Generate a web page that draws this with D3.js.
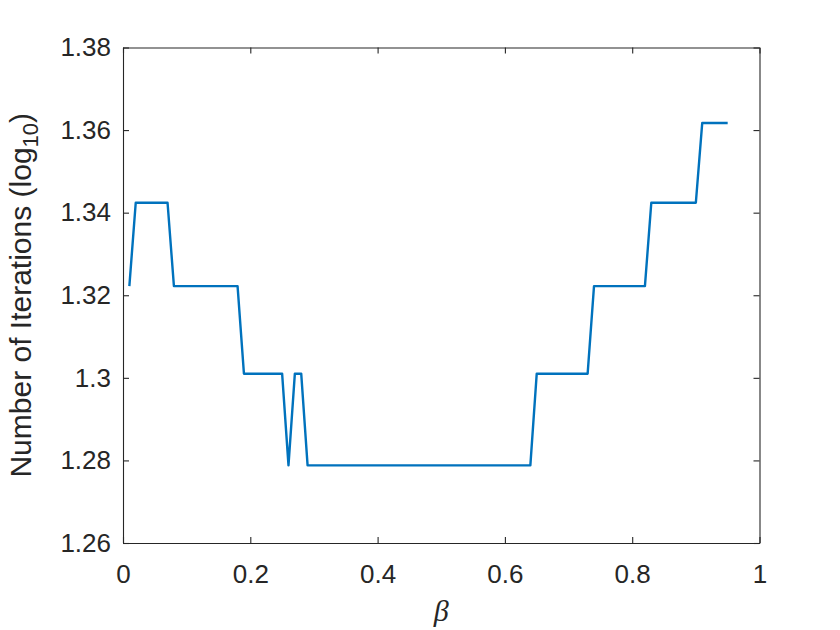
<!DOCTYPE html>
<html><head><meta charset="utf-8">
<script src="https://cdn.jsdelivr.net/npm/d3@7"></script>
<style>body{margin:0;background:#fff}svg{display:block}</style>
</head><body>
<script>
const beta = [0.01,0.02,0.03,0.04,0.05,0.06,0.07,0.08,0.09,0.10,0.11,0.12,0.13,0.14,0.15,0.16,0.17,0.18,0.19,0.20,
0.21,0.22,0.23,0.24,0.25,0.26,0.27,0.28,0.29,0.30,0.31,0.32,0.33,0.34,0.35,0.36,0.37,0.38,0.39,0.40,
0.41,0.42,0.43,0.44,0.45,0.46,0.47,0.48,0.49,0.50,0.51,0.52,0.53,0.54,0.55,0.56,0.57,0.58,0.59,0.60,
0.61,0.62,0.63,0.64,0.65,0.66,0.67,0.68,0.69,0.70,0.71,0.72,0.73,0.74,0.75,0.76,0.77,0.78,0.79,0.80,
0.81,0.82,0.83,0.84,0.85,0.86,0.87,0.88,0.89,0.90,0.91,0.92,0.93,0.94,0.95];
const logIter = [1.3222,1.3424,1.3424,1.3424,1.3424,1.3424,1.3424,1.3222,1.3222,1.3222,1.3222,1.3222,1.3222,1.3222,1.3222,1.3222,1.3222,1.3222,1.3010,1.3010,
1.3010,1.3010,1.3010,1.3010,1.3010,1.2788,1.3010,1.3010,1.2788,1.2788,1.2788,1.2788,1.2788,1.2788,1.2788,1.2788,1.2788,1.2788,1.2788,1.2788,
1.2788,1.2788,1.2788,1.2788,1.2788,1.2788,1.2788,1.2788,1.2788,1.2788,1.2788,1.2788,1.2788,1.2788,1.2788,1.2788,1.2788,1.2788,1.2788,1.2788,
1.2788,1.2788,1.2788,1.2788,1.3010,1.3010,1.3010,1.3010,1.3010,1.3010,1.3010,1.3010,1.3010,1.3222,1.3222,1.3222,1.3222,1.3222,1.3222,1.3222,
1.3222,1.3222,1.3424,1.3424,1.3424,1.3424,1.3424,1.3424,1.3424,1.3424,1.3617,1.3617,1.3617,1.3617,1.3617];
const xTicks = [0,0.2,0.4,0.6,0.8,1];
const xTickLabels = ["0","0.2","0.4","0.6","0.8","1"];
const yTicks = [1.26,1.28,1.30,1.32,1.34,1.36,1.38];
const yTickLabels = ["1.26","1.28","1.3","1.32","1.34","1.36","1.38"];

const W=840,H=630;
const L=123,R=759.5,T=47.5,B=543;
const font="'Liberation Sans', Arial, Helvetica, sans-serif";
const axisColor="#262626";
const svg=d3.select("body").append("svg").attr("width",W).attr("height",H);
const x=d3.scaleLinear().domain([0,1]).range([L,R]);
const y=d3.scaleLinear().domain([1.26,1.38]).range([B,T]);

// data line
svg.append("path").datum(beta.map((b,i)=>[b,logIter[i]]))
  .attr("fill","none").attr("stroke","#0072BD").attr("stroke-width",2.4)
  .attr("stroke-linejoin","round")
  .attr("d",d3.line().x(d=>x(d[0])).y(d=>y(d[1])));

const fmtX=(d,i)=>xTickLabels[i];
const fmtY=(d,i)=>yTickLabels[i];
const tl=6;
function style(g){
  g.select(".domain").attr("stroke",axisColor).attr("stroke-width",1.1);
  g.selectAll(".tick line").attr("stroke",axisColor).attr("stroke-width",1.1);
  g.selectAll("text").attr("fill",axisColor).style("font-family",font).style("font-size","26px");
}
// bottom
svg.append("g").attr("transform",`translate(0,${B})`)
  .call(d3.axisBottom(x).tickValues(xTicks).tickFormat(fmtX).tickSizeInner(-tl).tickSizeOuter(0).tickPadding(22))
  .call(style);
// top
svg.append("g").attr("transform",`translate(0,${T})`)
  .call(d3.axisTop(x).tickValues(xTicks).tickFormat("").tickSizeInner(-tl).tickSizeOuter(0))
  .call(style);
// left
svg.append("g").attr("transform",`translate(${L},0)`)
  .call(d3.axisLeft(y).tickValues(yTicks).tickFormat(fmtY).tickSizeInner(-tl).tickSizeOuter(0).tickPadding(12))
  .call(style);
// right
svg.append("g").attr("transform",`translate(${R},0)`)
  .call(d3.axisRight(y).tickValues(yTicks).tickFormat("").tickSizeInner(-tl).tickSizeOuter(0))
  .call(style);

// x label
svg.append("text").attr("x",(L+R)/2).attr("y",621).attr("text-anchor","middle")
  .attr("fill",axisColor).style("font-family","'Liberation Serif','DejaVu Serif',serif")
  .style("font-style","italic").style("font-size","30px").text("β");

// y label
const yl=svg.append("text").attr("transform",`translate(31,${(T+B)/2}) rotate(-90)`)
  .attr("text-anchor","middle").attr("fill",axisColor)
  .style("font-family",font).style("font-size","30px");
yl.append("tspan").text("Number of Iterations (log");
yl.append("tspan").attr("dy",7).style("font-size","22px").text("10");
yl.append("tspan").attr("dy",-7).text(")");
</script>
</body></html>
